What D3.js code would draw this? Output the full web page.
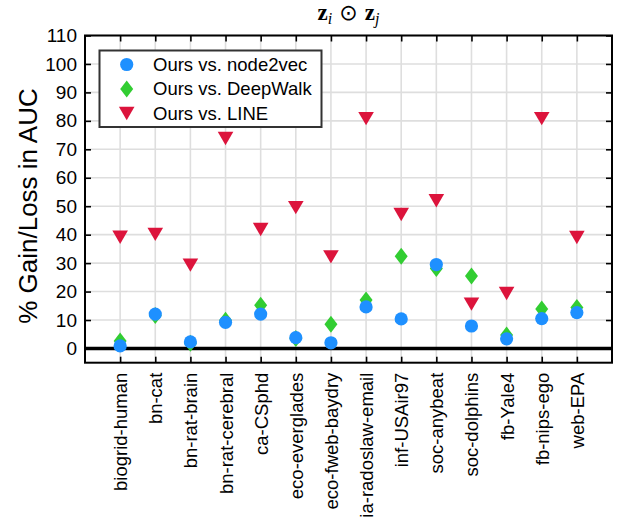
<!DOCTYPE html>
<html>
<head>
<meta charset="utf-8">
<script src="https://cdn.jsdelivr.net/npm/d3@7"></script>
<style>
  html, body { margin: 0; padding: 0; background: #fff; }
  svg { display: block; font-family: "Liberation Sans", Arial, Helvetica, sans-serif; }
</style>
</head>
<body>
<svg id="chart" width="621" height="521"></svg>
<script>
const categories = ["biogrid-human", "bn-cat", "bn-rat-brain", "bn-rat-cerebral", "ca-CSphd",
  "eco-everglades", "eco-fweb-baydry", "ia-radoslaw-email", "inf-USAir97", "soc-anybeat",
  "soc-dolphins", "fb-Yale4", "fb-nips-ego", "web-EPA"];
const node2vec = [0.9, 12.1, 2.3, 9.2, 12.1, 3.8, 2.0, 14.6, 10.4, 29.5, 7.9, 3.4, 10.5, 12.6];
const deepwalk = [2.6, 11.6, 1.8, 9.9, 15.2, 3.5, 8.5, 17.0, 32.4, 28.1, 25.5, 4.7, 13.9, 14.4];
const lineVals = [39.1, 40.1, 29.3, 73.8, 41.8, 49.5, 32.2, 80.8, 47.1, 51.9, 15.6, 19.3, 80.8, 39.0];
const yTicks = [0, 10, 20, 30, 40, 50, 60, 70, 80, 90, 100, 110];
const seriesNames = ["Ours vs. node2vec", "Ours vs. DeepWalk", "Ours vs. LINE"];

const colors = { node2vec: "#1E90FF", deepwalk: "#32CD32", line: "#DC143C" };

const svg = d3.select("#chart");
const L = 85, R = 612, T = 35.5, B = 362.7;

const x = d3.scaleLinear().domain([0, categories.length + 1]).range([L, R]);
const y = d3.scaleLinear().domain([-5, 110]).range([B, T]);
const idx = d3.range(1, categories.length + 1);

svg.append("rect").attr("width", 621).attr("height", 521).attr("fill", "#fff");

// grid
const grid = svg.append("g");
grid.selectAll("line.gx").data(idx).join("line")
  .attr("x1", d => x(d)).attr("x2", d => x(d)).attr("y1", T).attr("y2", B)
  .attr("stroke", "#dedede").attr("stroke-width", 1.6);
grid.selectAll("line.gy").data(yTicks).join("line")
  .attr("x1", L).attr("x2", R).attr("y1", d => y(d)).attr("y2", d => y(d))
  .attr("stroke", "#dedede").attr("stroke-width", 1.6);

// zero line
svg.append("line").attr("x1", L).attr("x2", R).attr("y1", y(0)).attr("y2", y(0))
  .attr("stroke", "#000").attr("stroke-width", 3.5);

// axes
const fs = 19;
const yAxisL = svg.append("g").attr("transform", `translate(${L},0)`)
  .call(d3.axisLeft(y).tickValues(yTicks).tickSize(-6).tickPadding(8));
yAxisL.selectAll("text").attr("font-size", fs).attr("fill", "#000").attr("font-family", "Liberation Sans, Arial, sans-serif");
const yAxisR = svg.append("g").attr("transform", `translate(${R},0)`)
  .call(d3.axisRight(y).tickValues(yTicks).tickSize(-6).tickFormat(""));
const xAxisT = svg.append("g").attr("transform", `translate(0,${T})`)
  .call(d3.axisTop(x).tickValues(idx).tickSize(-6).tickFormat(""));
const xAxisB = svg.append("g").attr("transform", `translate(0,${B})`)
  .call(d3.axisBottom(x).tickValues(idx).tickSize(-6).tickFormat(i => categories[i - 1]));
xAxisB.selectAll("text")
  .attr("font-size", 18.5).attr("fill", "#000").attr("font-family", "Liberation Sans, Arial, sans-serif")
  .attr("transform", "rotate(-90)")
  .attr("text-anchor", "end")
  .attr("x", -10).attr("y", 0).attr("dy", "0.35em");
[yAxisL, yAxisR, xAxisT, xAxisB].forEach(g => {
  g.select(".domain").remove();
  g.selectAll(".tick line").attr("stroke", "#000").attr("stroke-width", 1.6);
});

// box
svg.append("rect").attr("x", L).attr("y", T).attr("width", R - L).attr("height", B - T)
  .attr("fill", "none").attr("stroke", "#000").attr("stroke-width", 2);

// marker shapes
const circlePath = "M6.6,0A6.6,6.6,0,1,1,-6.6,0A6.6,6.6,0,1,1,6.6,0Z";
const diamondPath = "M0,-8.5L6.5,0L0,8.5L-6.5,0Z";
const trianglePath = "M-7.8,-6.7L7.8,-6.7L0,6.7Z";

const marks = svg.append("g");
function drawSeries(vals, path, color) {
  marks.append("g").selectAll("path").data(vals).join("path")
    .attr("d", path)
    .attr("transform", (d, i) => `translate(${x(i + 1)},${y(d)})`)
    .attr("fill", color);
}
drawSeries(lineVals, trianglePath, colors.line);
drawSeries(deepwalk, diamondPath, colors.deepwalk);
drawSeries(node2vec, circlePath, colors.node2vec);

// legend
const lg = svg.append("g");
lg.append("rect").attr("x", 99.5).attr("y", 50.5).attr("width", 222).attr("height", 76.5)
  .attr("fill", "#fff").attr("stroke", "#333").attr("stroke-width", 2);
const legendItems = [
  { name: seriesNames[0], path: circlePath, color: colors.node2vec },
  { name: seriesNames[1], path: diamondPath, color: colors.deepwalk },
  { name: seriesNames[2], path: trianglePath, color: colors.line }
];
const ly = d3.scalePoint().domain(d3.range(legendItems.length)).range([64.5, 113.5]);
legendItems.forEach((it, i) => {
  lg.append("path").attr("d", it.path).attr("fill", it.color)
    .attr("transform", `translate(126.7,${ly(i)})`);
  lg.append("text").attr("x", 153).attr("y", ly(i)).attr("dy", "0.35em")
    .attr("font-size", 18.5).attr("fill", "#000").text(it.name);
});

// y label
svg.append("text")
  .attr("transform", "translate(36.5,206) rotate(-90)")
  .attr("text-anchor", "middle")
  .attr("font-size", 26).attr("fill", "#000")
  .text("% Gain/Loss in AUC");

// title
const title = svg.append("text")
  .attr("x", (L + R) / 2).attr("y", 20)
  .attr("text-anchor", "middle")
  .attr("font-family", "Liberation Serif, DejaVu Serif, serif")
  .attr("font-size", 23).attr("fill", "#000");
title.append("tspan").attr("font-weight", "bold").text("z");
title.append("tspan").attr("font-style", "italic").attr("font-size", 16).attr("dy", 4).text("i");
title.append("tspan").attr("dy", -4).attr("font-family", "DejaVu Sans, sans-serif").attr("font-size", 22).text(" \u2299 ");
title.append("tspan").attr("font-weight", "bold").text("z");
title.append("tspan").attr("font-style", "italic").attr("font-size", 16).attr("dy", 4).text("j");
</script>
</body>
</html>
